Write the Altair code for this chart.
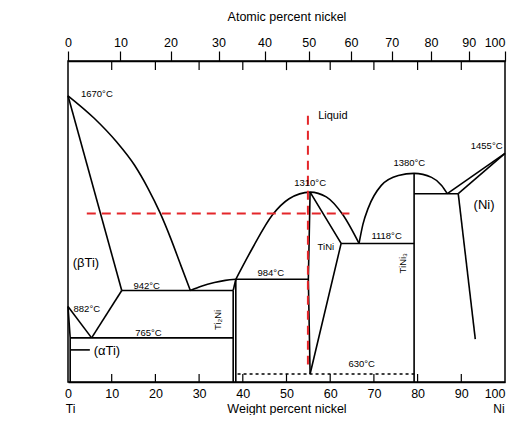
import altair as alt
import pandas as pd

# ---------------- data (weight % Ni, temperature °C) ----------------
weight_ticks = [0, 10, 20, 30, 40, 50, 60, 70, 80, 90, 100]
atomic_ticks = [0, 10, 20, 30, 40, 50, 60, 70, 80, 90, 100]
temp_ticks = [600, 700, 800, 900, 1000, 1100, 1200, 1300, 1400, 1500, 1600, 1700, 1800]
inner_ticks = [10, 20, 30, 40, 50, 60, 70, 80, 90]

# curved boundaries
liq_beta_w = [0, 6.0, 11.1, 15.2, 18.3, 21.05, 23.5, 25.8, 28.0]
liq_beta_t = [1670, 1586, 1498, 1411, 1324, 1233, 1137, 1037, 942]
liq_ti2ni_w = [28.0, 30.5, 33.5, 36.0, 38.4]
liq_ti2ni_t = [942, 958, 972, 980, 984]
dome_tini_w = [38.4, 42.2, 46.8, 50.6, 55.4, 59.1, 62.9, 66.6]
dome_tini_t = [984, 1100, 1225, 1285, 1310, 1292, 1225, 1118]
dome_tini3_w = [66.6, 67.5, 68.7, 71.7, 75.6, 79.2, 83.2, 85.5, 86.8]
dome_tini3_t = [1118, 1190, 1250, 1335, 1372, 1380, 1365, 1335, 1304]

# straight boundaries
solidus_beta_w = [0, 12.3];        solidus_beta_t = [1670, 942]
eut942_w = [12.3, 37.8];           eut942_t = [942, 942]
alpha_transus_w = [0, 5.4];        alpha_transus_t = [882, 765]
beta_transus_w = [5.4, 12.3];      beta_transus_t = [765, 942]
eut765_w = [0.5, 37.8];            eut765_t = [765, 765]
alpha_solvus_w = [0, 0.5, 0.5];    alpha_solvus_t = [882, 765, 600]
alpha_pointer_w = [0.6, 5.0];      alpha_pointer_t = [720, 720]
ti2ni_left_w = [37.8, 37.8];       ti2ni_left_t = [942, 600]
ti2ni_top_w = [37.8, 38.4];        ti2ni_top_t = [942, 984]
ti2ni_right_w = [38.4, 38.4];      ti2ni_right_t = [984, 600]
per984_w = [38.4, 55.0];           per984_t = [984, 984]
tini_left_w = [55.4, 55.0, 55.4];  tini_left_t = [1310, 984, 630]
tini_right_w = [55.4, 62.5, 55.4]; tini_right_t = [1310, 1118, 630]
eut1118_w = [62.5, 79.2];          eut1118_t = [1118, 1118]
tini3_w = [79.2, 79.2];            tini3_t = [1380, 600]
eut1304_w = [79.2, 89.3];          eut1304_t = [1304, 1304]
ni_liq_w = [86.8, 100];            ni_liq_t = [1304, 1455]
ni_sol_w = [89.3, 100];            ni_sol_t = [1304, 1455]
ni_solvus_w = [89.3, 93.2];        ni_solvus_t = [1304, 760]

eutectoid630_w = [38.8, 79.2];     eutectoid630_t = [630, 630]

red_v_w = [54.9, 54.9];            red_v_t = [1595, 665]
red_h_w = [4.3, 64.4];             red_h_t = [1230, 1230]

label_text = ["1670°C", "Liquid", "1310°C", "984°C", "TiNi", "1118°C", "1380°C",
              "1455°C", "(Ni)", "TiNi₃", "942°C", "882°C", "765°C", "(αTi)",
              "(βTi)", "Ti₂Ni", "630°C", "Ti", "Ni"]
label_w = [6.6, 60.6, 55.4, 46.4, 59.0, 72.9, 78.1, 95.8, 95.2, 76.7, 18.0, 4.3,
           18.4, 8.9, 4.1, 34.4, 67.2, 0.6, 98.6]
label_t = [1677, 1594, 1344, 1008, 1106, 1146, 1418, 1483, 1262, 1044, 960, 873,
           782, 716, 1044, 832, 666, 499, 499]
label_size = [9.5, 11, 9.5, 9.5, 9.5, 9.5, 9.5, 9.5, 13, 9.5, 9.5, 9.5, 9.5, 13,
              13, 9.5, 9.5, 12, 12]
label_angle = [0, 0, 0, 0, 0, 0, 0, 0, 0, 270, 0, 0, 0, 0, 0, 270, 0, 0, 0]

# ---------------- tables ----------------
def seg_table(segs):
    rows = []
    for name, ws, ts in segs:
        for i, (w, t) in enumerate(zip(ws, ts)):
            rows.append({"seg": name, "ord": i, "w": w, "t": t})
    return pd.DataFrame(rows)

curves = seg_table([
    ("liq_beta", liq_beta_w, liq_beta_t),
    ("liq_ti2ni", liq_ti2ni_w, liq_ti2ni_t),
    ("dome_tini", dome_tini_w, dome_tini_t),
    ("dome_tini3", dome_tini3_w, dome_tini3_t),
])
straights = seg_table([
    ("solidus_beta", solidus_beta_w, solidus_beta_t),
    ("eut942", eut942_w, eut942_t),
    ("alpha_transus", alpha_transus_w, alpha_transus_t),
    ("beta_transus", beta_transus_w, beta_transus_t),
    ("eut765", eut765_w, eut765_t),
    ("alpha_solvus", alpha_solvus_w, alpha_solvus_t),
    ("alpha_pointer", alpha_pointer_w, alpha_pointer_t),
    ("ti2ni_left", ti2ni_left_w, ti2ni_left_t),
    ("ti2ni_top", ti2ni_top_w, ti2ni_top_t),
    ("ti2ni_right", ti2ni_right_w, ti2ni_right_t),
    ("per984", per984_w, per984_t),
    ("tini_left", tini_left_w, tini_left_t),
    ("tini_right", tini_right_w, tini_right_t),
    ("eut1118", eut1118_w, eut1118_t),
    ("tini3", tini3_w, tini3_t),
    ("eut1304", eut1304_w, eut1304_t),
    ("ni_liq", ni_liq_w, ni_liq_t),
    ("ni_sol", ni_sol_w, ni_sol_t),
    ("ni_solvus", ni_solvus_w, ni_solvus_t),
])
dotted = seg_table([("eutectoid630", eutectoid630_w, eutectoid630_t)])
red = seg_table([("red_v", red_v_w, red_v_t), ("red_h", red_h_w, red_h_t)])
labels = pd.DataFrame({"text": label_text, "w": label_w, "t": label_t,
                       "fs": label_size, "ang": label_angle})

# top (atomic %) tick positions expressed on the weight % scale
MNI, MTI = 58.69, 47.87
top_pos = [100 * a * MNI / (a * MNI + (100 - a) * MTI) for a in atomic_ticks]
top_df = pd.DataFrame({"w": top_pos})
bottom_ticks_df = pd.DataFrame({"w": inner_ticks, "t0": 600, "t1": 630})
top_inner_df = pd.DataFrame({"w": inner_ticks, "t0": 1800, "t1": 1766})

xs = alt.Scale(domain=[0, 100], nice=False, zero=False)
ys = alt.Scale(domain=[600, 1800], nice=False, zero=False)
FONT = "Liberation Sans"

def X(field="w", axis=None):
    return alt.X(f"{field}:Q", scale=xs, axis=axis)

def Y(field="t", axis=None):
    return alt.Y(f"{field}:Q", scale=ys, axis=axis)

last_right = {"condition": {"test": "datum.value >= 99.9", "value": "right"}, "value": "center"}

bottom_axis = alt.Axis(orient="bottom", values=weight_ticks, ticks=False, tickSize=0,
                       labelPadding=5, grid=False, domain=True, domainColor="black",
                       domainWidth=1.5, labelFontSize=12.5, labelColor="black",
                       labelFlush=False, labelOverlap=False, labelAlign=last_right,
                       title="Weight percent nickel", titleFontSize=12.5,
                       titleFontWeight="normal", titlePadding=3, titleColor="black")
left_axis = alt.Axis(orient="left", values=temp_ticks, tickSize=4, tickColor="black",
                     tickWidth=1.2, labelPadding=2, grid=False, domainColor="black",
                     domainWidth=1.5, labelFontSize=12.5, labelColor="black",
                     labelFlush=False, labelOverlap=False,
                     title="Temperature, °C", titleFontSize=12.5, titleFontWeight="normal",
                     titlePadding=11, titleColor="black")
top_axis = alt.Axis(orient="top", values=top_pos, tickSize=10, tickColor="black",
                    tickWidth=1.2, labelPadding=2, grid=False, domainColor="black",
                    domainWidth=1.5, labelFontSize=12.5, labelColor="black",
                    labelFlush=False, labelOverlap=False, labelAlign=last_right,
                    labelExpr="format(round(100*(datum.value/58.69)/(datum.value/58.69+(100-datum.value)/47.87)),'d')",
                    title="Atomic percent nickel", titleFontSize=12.5,
                    titleFontWeight="normal", titlePadding=13, titleColor="black")

curve_layer = alt.Chart(curves).mark_line(color="black", strokeWidth=1.6,
                                          interpolate="monotone").encode(
    x=X(axis=bottom_axis), y=Y(axis=left_axis), detail="seg:N", order="ord:Q")

straight_layer = alt.Chart(straights).mark_line(color="black", strokeWidth=1.6).encode(
    x=X(), y=Y(), detail="seg:N", order="ord:Q")

dotted_layer = alt.Chart(dotted).mark_line(color="black", strokeWidth=1.6,
                                           strokeDash=[3, 3]).encode(
    x=X(), y=Y(), detail="seg:N", order="ord:Q")

red_layer = alt.Chart(red).mark_line(color="#e4262a", strokeWidth=2,
                                     strokeDash=[9, 6]).encode(
    x=X(), y=Y(), detail="seg:N", order="ord:Q")

bottom_tick_layer = alt.Chart(bottom_ticks_df).mark_rule(color="black", strokeWidth=1.2).encode(
    x=X(), y=Y("t0"), y2="t1:Q")
top_inner_layer = alt.Chart(top_inner_df).mark_rule(color="black", strokeWidth=1.2).encode(
    x=X(), y=Y("t0"), y2="t1:Q")
top_axis_layer = alt.Chart(top_df).mark_point(opacity=0).encode(
    x=X(axis=top_axis), y=alt.value(0))

text_layer = alt.Chart(labels).mark_text(color="black", font=FONT, align="center",
                                         baseline="middle").encode(
    x=X(), y=Y(), text="text:N",
    size=alt.Size("fs:Q", scale=None, legend=None),
    angle=alt.Angle("ang:Q", scale=None))

chart = alt.layer(
    curve_layer, straight_layer, dotted_layer, red_layer,
    bottom_tick_layer, top_inner_layer, top_axis_layer, text_layer
).resolve_axis(x="independent").properties(
    width=437, height=321,
    autosize=alt.AutoSizeParams(type="none"),
    padding={"left": 60, "top": 53, "right": 2, "bottom": 33},
).configure(font=FONT).configure_view(stroke="black", strokeWidth=1.5)

chart.save("out.html", embed_options={"renderer": "svg", "actions": False})
